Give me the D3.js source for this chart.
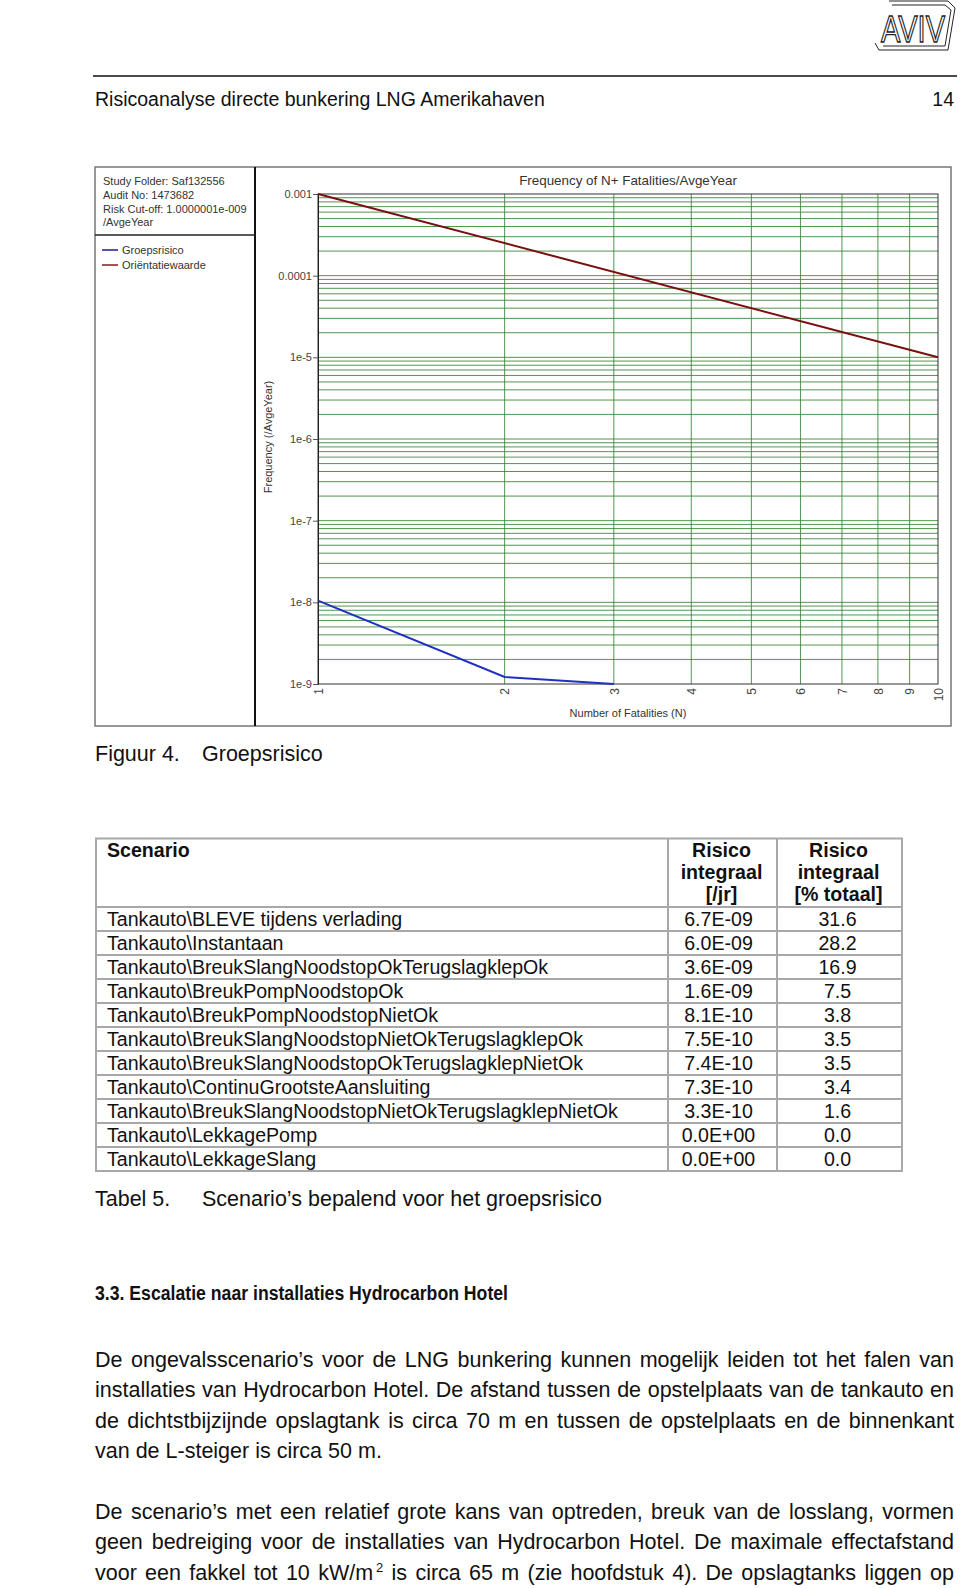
<!DOCTYPE html>
<html>
<head>
<meta charset="utf-8">
<script src="https://cdn.jsdelivr.net/npm/d3@7"></script>
<style>
  body { margin: 0; background: #fff; }
  #page { width: 960px; height: 1588px; overflow: hidden; }
  text { font-family: "Liberation Sans", Arial, sans-serif; }
</style>
</head>
<body>
<div id="page"></div>
<script>
// ---- data ----
const groepN = [1, 2, 3];
const groepF = [1.05e-8, 1.22e-9, 1.0e-9];
const orientN = [1, 10];
const orientF = [1e-3, 1e-5];

const yDecades = [1e-9, 1e-8, 1e-7, 1e-6, 1e-5, 1e-4, 1e-3];
const yLabels = ['1e-9', '1e-8', '1e-7', '1e-6', '1e-5', '0.0001', '0.001'];
const xTicks = [1, 2, 3, 4, 5, 6, 7, 8, 9, 10];

const infoLines = ['Study Folder: Saf132556', 'Audit No: 1473682',
  'Risk Cut-off: 1.0000001e-009', '/AvgeYear'];
const legendNames = ['Groepsrisico', 'Oriëntatiewaarde'];

const scenarios = [
  'Tankauto\\BLEVE tijdens verlading',
  'Tankauto\\Instantaan',
  'Tankauto\\BreukSlangNoodstopOkTerugslagklepOk',
  'Tankauto\\BreukPompNoodstopOk',
  'Tankauto\\BreukPompNoodstopNietOk',
  'Tankauto\\BreukSlangNoodstopNietOkTerugslagklepOk',
  'Tankauto\\BreukSlangNoodstopOkTerugslagklepNietOk',
  'Tankauto\\ContinuGrootsteAansluiting',
  'Tankauto\\BreukSlangNoodstopNietOkTerugslagklepNietOk',
  'Tankauto\\LekkagePomp',
  'Tankauto\\LekkageSlang'
];
const risicoJr = ['6.7E-09', '6.0E-09', '3.6E-09', '1.6E-09', '8.1E-10', '7.5E-10',
  '7.4E-10', '7.3E-10', '3.3E-10', '0.0E+00', '0.0E+00'];
const risicoPct = ['31.6', '28.2', '16.9', '7.5', '3.8', '3.5', '3.5', '3.4', '1.6', '0.0', '0.0'];
const headCols = [['Risico', 'integraal', '[/jr]'], ['Risico', 'integraal', '[% totaal]']];

const para1 = [
  'De ongevalsscenario’s voor de LNG bunkering kunnen mogelijk leiden tot het falen van',
  'installaties van Hydrocarbon Hotel. De afstand tussen de opstelplaats van de tankauto en',
  'de dichtstbijzijnde opslagtank is circa 70 m en tussen de opstelplaats en de binnenkant',
  'van de L-steiger is circa 50 m.'
];
const para2 = [
  'De scenario’s met een relatief grote kans van optreden, breuk van de losslang, vormen',
  'geen bedreiging voor de installaties van Hydrocarbon Hotel. De maximale effectafstand',
  'voor een fakkel tot 10 kW/m^2 is circa 65 m (zie hoofdstuk 4). De opslagtanks liggen op'
];

// ---- page ----
const svg = d3.select('#page').append('svg')
  .attr('width', 960).attr('height', 1588);

// header logo
const logo = svg.append('g').attr('fill', 'none').attr('stroke', '#222').attr('stroke-width', 1);
logo.append('path').attr('d', 'M889,1 L948,1 L955,8 L948,50 L879,50 L875,43');
logo.append('path').attr('d', 'M892,5 L945,5 L951,10 L945,46 L883,46');
logo.append('text').attr('x', 881).attr('y', 42)
  .attr('font-size', 36).attr('textLength', 64).attr('lengthAdjust', 'spacingAndGlyphs')
  .attr('fill', '#fff').attr('stroke', '#222').attr('stroke-width', 1.3)
  .text('AVIV');

svg.append('line').attr('x1', 93).attr('x2', 957).attr('y1', 76).attr('y2', 76)
  .attr('stroke', '#111').attr('stroke-width', 1.5);
svg.append('text').attr('x', 95).attr('y', 106).attr('font-size', 19.5).attr('fill', '#111')
  .text('Risicoanalyse directe bunkering LNG Amerikahaven');
svg.append('text').attr('x', 954).attr('y', 106).attr('font-size', 19.5).attr('fill', '#111')
  .attr('text-anchor', 'end').text('14');

// ---- chart ----
const frame = {left: 95, top: 167, right: 951, bottom: 726, split: 255, info: 235};
const plot = {left: 318, right: 938, top: 194, bottom: 684};

const x = d3.scaleLog().domain([1, 10]).range([plot.left, plot.right]);
const y = d3.scaleLog().domain([1e-9, 1e-3]).range([plot.bottom, plot.top]);

svg.append('rect')
  .attr('x', frame.left).attr('y', frame.top)
  .attr('width', frame.right - frame.left).attr('height', frame.bottom - frame.top)
  .attr('fill', '#fff').attr('stroke', '#777').attr('stroke-width', 1.5);
svg.append('line').attr('x1', frame.split).attr('x2', frame.split)
  .attr('y1', frame.top).attr('y2', frame.bottom).attr('stroke', '#111').attr('stroke-width', 2);
svg.append('line').attr('x1', frame.left).attr('x2', frame.split)
  .attr('y1', frame.info).attr('y2', frame.info).attr('stroke', '#222').attr('stroke-width', 1.5);

// info + legend
svg.append('g').selectAll('text').data(infoLines).join('text')
  .attr('x', 103).attr('y', (d, i) => 185 + i * 13.8)
  .attr('font-size', 11).attr('fill', '#333').text(d => d);

const legendColors = ['#1c1c8c', '#8b1a1a'];
const leg = svg.append('g').selectAll('g').data(legendNames).join('g')
  .attr('transform', (d, i) => `translate(102, ${250 + i * 15})`);
leg.append('line').attr('x1', 0).attr('x2', 16)
  .attr('stroke', (d, i) => legendColors[i]).attr('stroke-width', 1.5);
leg.append('text').attr('x', 20).attr('y', 4).attr('font-size', 11).attr('fill', '#333').text(d => d);

// grid
const minorY = [];
yDecades.slice(0, -1).forEach(dec => {
  for (let k = 1; k <= 9; k++) minorY.push(k * dec);
});
svg.append('g').selectAll('line').data(minorY.slice(1)).join('line')
  .attr('x1', plot.left).attr('x2', plot.right)
  .attr('y1', d => y(d)).attr('y2', d => y(d))
  .attr('stroke', '#348234').attr('stroke-opacity', 0.85).attr('stroke-width', 1);
svg.append('g').selectAll('line').data(xTicks.slice(1, -1)).join('line')
  .attr('x1', d => x(d)).attr('x2', d => x(d))
  .attr('y1', plot.top).attr('y2', plot.bottom)
  .attr('stroke', '#348234').attr('stroke-opacity', 0.85).attr('stroke-width', 1);

svg.append('rect')
  .attr('x', plot.left).attr('y', plot.top)
  .attr('width', plot.right - plot.left).attr('height', plot.bottom - plot.top)
  .attr('fill', 'none').attr('stroke', '#333').attr('stroke-width', 1);

// axes
const yAxis = svg.append('g')
  .attr('transform', `translate(${plot.left},0)`)
  .call(d3.axisLeft(y).tickValues(yDecades)
    .tickFormat((d, i) => yLabels[i]).tickSize(5).tickPadding(1));
yAxis.select('.domain').attr('stroke', '#222');
yAxis.selectAll('line').attr('stroke', '#555');
yAxis.selectAll('text').attr('font-size', 11).attr('fill', '#444')
  .attr('font-family', '"Liberation Sans", Arial, sans-serif');

const xAxis = svg.append('g')
  .attr('transform', `translate(0,${plot.bottom})`)
  .call(d3.axisBottom(x).tickValues(xTicks).tickFormat(d3.format('d')).tickSize(0));
xAxis.select('.domain').remove();
xAxis.selectAll('text')
  .attr('transform', 'rotate(-90)')
  .attr('text-anchor', 'end').attr('x', -4).attr('y', 0).attr('dy', '0.35em')
  .attr('font-size', 12).attr('fill', '#444')
  .attr('font-family', '"Liberation Sans", Arial, sans-serif');

// titles
svg.append('text').attr('x', 628).attr('y', 185).attr('text-anchor', 'middle')
  .attr('font-size', 13.4).attr('fill', '#333').text('Frequency of N+ Fatalities/AvgeYear');
svg.append('text').attr('x', 628).attr('y', 717).attr('text-anchor', 'middle')
  .attr('font-size', 11).attr('fill', '#333').text('Number of Fatalities (N)');
svg.append('text').attr('transform', 'translate(272,437) rotate(-90)').attr('text-anchor', 'middle')
  .attr('font-size', 11).attr('fill', '#333').text('Frequency (/AvgeYear)');

// lines
const line = d3.line().x(d => x(d[0])).y(d => y(d[1]));
svg.append('path').attr('d', line(d3.zip(orientN, orientF)))
  .attr('fill', 'none').attr('stroke', '#7a0f0f').attr('stroke-width', 2);
svg.append('path').attr('d', line(d3.zip(groepN, groepF)))
  .attr('fill', 'none').attr('stroke', '#1f2fc4').attr('stroke-width', 2);

// caption
const body = 21.5;
const cap = 21.5;
svg.append('text').attr('x', 95).attr('y', 761).attr('font-size', cap).attr('fill', '#111').text('Figuur 4.');
svg.append('text').attr('x', 202).attr('y', 761).attr('font-size', cap).attr('fill', '#111').text('Groepsrisico');

// ---- table ----
const tab = {left: 96, c1: 668, c2: 777, right: 902, top: 838.5, head: 907, rowH: 24};
const tBottom = tab.head + tab.rowH * scenarios.length;
const tfs = 19.6;
const tg = svg.append('g');
const gridStroke = '#a8a8a8';
tg.append('rect').attr('x', tab.left).attr('y', tab.top)
  .attr('width', tab.right - tab.left).attr('height', tBottom - tab.top)
  .attr('fill', 'none').attr('stroke', gridStroke).attr('stroke-width', 2);
[tab.c1, tab.c2].forEach(cx => tg.append('line')
  .attr('x1', cx).attr('x2', cx).attr('y1', tab.top).attr('y2', tBottom)
  .attr('stroke', gridStroke).attr('stroke-width', 2));
tg.selectAll('.rowline').data(d3.range(scenarios.length)).join('line')
  .attr('x1', tab.left).attr('x2', tab.right)
  .attr('y1', i => tab.head + i * tab.rowH).attr('y2', i => tab.head + i * tab.rowH)
  .attr('stroke', gridStroke).attr('stroke-width', 2);

tg.append('text').attr('x', 107).attr('y', 857).attr('font-size', tfs).attr('font-weight', 'bold')
  .attr('fill', '#111').text('Scenario');
headCols.forEach((lines, c) => {
  const cx = c === 0 ? (tab.c1 + tab.c2) / 2 : (tab.c2 + tab.right) / 2;
  tg.selectAll(null).data(lines).join('text')
    .attr('x', cx - 1).attr('y', (d, i) => 857 + i * 22)
    .attr('text-anchor', 'middle').attr('font-size', tfs).attr('font-weight', 'bold')
    .attr('fill', '#111').text(d => d);
});
const rowY = i => tab.head + i * tab.rowH + 18.5;
tg.selectAll(null).data(scenarios).join('text')
  .attr('x', 107).attr('y', (d, i) => rowY(i)).attr('font-size', tfs).attr('fill', '#111').text(d => d);
tg.selectAll(null).data(risicoJr).join('text')
  .attr('x', (tab.c1 + tab.c2) / 2 - 4).attr('y', (d, i) => rowY(i)).attr('text-anchor', 'middle')
  .attr('font-size', tfs).attr('fill', '#111').text(d => d);
tg.selectAll(null).data(risicoPct).join('text')
  .attr('x', (tab.c2 + tab.right) / 2 - 2).attr('y', (d, i) => rowY(i)).attr('text-anchor', 'middle')
  .attr('font-size', tfs).attr('fill', '#111').text(d => d);

svg.append('text').attr('x', 95).attr('y', 1206).attr('font-size', cap).attr('fill', '#111').text('Tabel 5.');
svg.append('text').attr('x', 202).attr('y', 1206).attr('font-size', cap).attr('fill', '#111')
  .text('Scenario’s bepalend voor het groepsrisico');

svg.append('text').attr('x', 95).attr('y', 1300).attr('font-size', 19.5).attr('font-weight', 'bold')
  .attr('textLength', 413).attr('lengthAdjust', 'spacingAndGlyphs')
  .attr('fill', '#111').text('3.3. Escalatie naar installaties Hydrocarbon Hotel');

// justified paragraph lines
function drawLine(str, baseY, justify) {
  const words = str.split(' ');
  const g = svg.append('g');
  const nodes = words.map(w => {
    const t = g.append('text').attr('y', baseY).attr('font-size', body).attr('fill', '#111');
    if (w.includes('^')) {
      const [a, b] = w.split('^');
      t.text(a);
      t.append('tspan').attr('font-size', 13).attr('dx', 3).attr('dy', -8).text(b);
    } else {
      t.text(w);
    }
    return t;
  });
  const widths = nodes.map(t => t.node().getBBox().width);
  const total = d3.sum(widths);
  const space = justify ? Math.max(3, (859 - total) / (words.length - 1)) : body * 0.278;
  let cx = 95;
  nodes.forEach((t, i) => { t.attr('x', cx); cx += widths[i] + space; });
}
para1.forEach((s, i) => drawLine(s, 1367 + i * 30.4, i < para1.length - 1));
para2.forEach((s, i) => drawLine(s, 1519 + i * 30.4, true));
</script>
</body>
</html>
